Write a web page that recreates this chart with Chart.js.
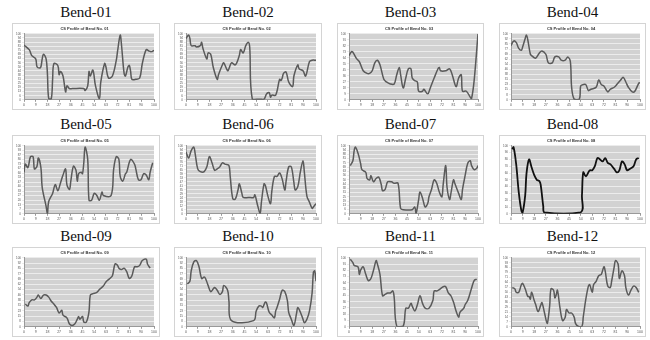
<!DOCTYPE html>
<html>
<head>
<meta charset="utf-8">
<script src="https://cdn.jsdelivr.net/npm/chart.js@4.4.1/dist/chart.umd.min.js"></script>
<style>
  body { margin: 0; background: #fff; width: 650px; height: 340px; overflow: hidden; position: relative; }
  .name { position: absolute; text-align: center; font-family: "Liberation Serif", "DejaVu Serif", serif; font-size: 15px; line-height: 16px; color: #111; }
  .box { position: absolute; border: 1px solid #d4d4d4; background: #fff; box-sizing: border-box; }
  .box canvas { display: block; }
</style>
</head>
<body>
<script>
// Nombres de cada curva
const bendNames = ["Bend-01", "Bend-02", "Bend-03", "Bend-04", "Bend-05", "Bend-06",
                   "Bend-07", "Bend-08", "Bend-09", "Bend-10", "Bend-11", "Bend-12"];
const bendNumbers = ["01", "02", "03", "04", "05", "06", "07", "08", "09", "10", "11", "12"];

// Perfiles: [posicion % a lo largo, valor % del rango]
const bend01 = [[0,83],[4,76],[6,67],[9,62],[10,50],[12,48],[13,50],[14,62],[15,69],[17,62],[18,40],[19,2],[21,2],[22,31],[23,55],[26,52],[27,38],[28,43],[30,36],[32,12],[33,21],[35,17],[37,17],[46,17],[47,14],[49,21],[50,43],[51,36],[53,45],[55,21],[58,2],[59,26],[62,55],[63,50],[65,33],[68,36],[71,60],[72,74],[74,98],[75,83],[77,40],[78,36],[80,50],[81,52],[82,43],[83,31],[86,31],[89,33],[91,55],[94,76],[96,74],[98,73],[100,75]];
const bend02 = [[0,93],[2,98],[3,93],[4,82],[7,82],[8,80],[11,82],[12,87],[13,78],[16,62],[17,71],[19,69],[21,49],[24,31],[25,38],[28,53],[29,56],[32,44],[33,47],[35,56],[38,53],[41,67],[42,76],[44,71],[46,82],[48,87],[49,80],[51,1],[57,1],[60,1],[62,9],[64,11],[65,4],[66,7],[69,7],[72,31],[73,29],[74,33],[75,40],[77,42],[79,27],[82,20],[83,36],[86,53],[87,47],[90,44],[92,36],[95,58],[97,60],[100,60]];
const bend03 = [[0,67],[2,73],[3,72],[6,62],[8,58],[11,44],[14,40],[16,40],[18,44],[20,56],[22,60],[24,53],[27,31],[29,27],[32,24],[35,24],[37,38],[39,49],[40,38],[42,18],[44,33],[46,47],[48,47],[49,33],[51,29],[53,27],[54,13],[57,13],[58,16],[61,9],[63,18],[66,33],[69,47],[70,49],[71,44],[75,44],[78,47],[80,38],[83,20],[85,33],[87,38],[88,13],[91,13],[94,4],[95,2],[97,29],[100,100]];
const bend04 = [[0,82],[2,89],[4,87],[6,78],[8,75],[9,80],[11,93],[12,98],[13,91],[15,69],[16,67],[19,63],[22,71],[24,74],[27,69],[29,56],[32,56],[34,65],[37,65],[39,60],[42,60],[44,65],[46,58],[47,19],[49,1],[53,1],[54,21],[56,23],[58,23],[60,14],[62,16],[66,19],[68,30],[70,23],[72,21],[75,12],[77,16],[80,19],[82,23],[85,30],[87,34],[89,27],[91,19],[94,12],[96,13],[99,25],[100,26]];
const bend05 = [[0,61],[1,73],[3,68],[5,84],[7,84],[8,66],[10,70],[11,82],[13,68],[14,39],[17,11],[18,0],[19,18],[22,30],[24,43],[26,34],[28,45],[30,57],[32,66],[33,43],[35,36],[36,48],[38,70],[40,64],[41,48],[42,59],[44,61],[45,59],[46,75],[47,98],[49,80],[50,20],[52,20],[54,30],[56,27],[58,20],[60,32],[61,27],[67,27],[69,66],[71,84],[73,80],[74,55],[76,48],[78,59],[79,61],[82,80],[85,73],[86,66],[88,50],[90,50],[92,59],[94,57],[96,50],[97,61],[99,75]];
const bend06 = [[0,91],[2,82],[4,93],[6,98],[7,89],[9,66],[11,62],[14,62],[16,69],[18,84],[20,75],[22,64],[24,66],[26,69],[28,75],[30,73],[33,71],[34,55],[36,22],[38,22],[40,35],[41,44],[43,30],[44,24],[48,24],[52,24],[53,28],[55,13],[57,1],[58,17],[60,44],[61,42],[63,26],[65,15],[66,33],[68,55],[70,55],[72,60],[74,51],[76,35],[77,48],[79,69],[81,69],[83,46],[84,35],[86,40],[88,62],[90,78],[91,62],[93,26],[95,17],[97,8],[98,10],[100,15]];
const bend07 = [[1,71],[3,78],[4,93],[5,98],[7,89],[9,74],[10,65],[13,61],[14,52],[16,50],[17,56],[19,47],[21,52],[23,54],[25,43],[26,34],[28,36],[30,47],[33,47],[35,45],[38,45],[40,8],[42,6],[49,6],[51,10],[52,1],[54,21],[55,32],[57,23],[59,10],[61,15],[62,25],[64,36],[66,50],[68,45],[70,32],[72,25],[73,43],[75,71],[76,39],[78,21],[79,30],[81,50],[82,45],[85,30],[87,21],[88,36],[90,56],[92,74],[94,78],[95,71],[97,65],[99,67],[100,71]];
const bend08 = [[1,95],[2,98],[4,73],[6,32],[8,5],[9,2],[11,27],[12,59],[14,80],[16,68],[18,57],[20,50],[22,48],[23,43],[25,11],[26,2],[54,2],[55,27],[56,61],[58,55],[61,64],[63,64],[65,70],[67,82],[69,80],[71,77],[73,82],[75,75],[77,73],[80,66],[82,61],[84,64],[86,77],[88,73],[90,64],[92,66],[95,70],[97,80],[99,82]];
const bend09 = [[1,33],[3,30],[4,35],[6,39],[8,39],[10,43],[11,46],[13,41],[15,46],[17,46],[19,43],[21,37],[23,33],[25,28],[27,20],[29,24],[30,17],[33,13],[35,4],[37,2],[39,4],[41,11],[42,15],[43,11],[45,15],[46,7],[48,7],[50,22],[51,46],[53,48],[56,50],[58,54],[61,59],[63,65],[66,70],[68,74],[70,91],[72,89],[73,85],[75,83],[77,85],[79,80],[81,70],[83,74],[85,87],[87,87],[89,89],[91,96],[94,98],[95,91],[97,85]];
const bend10 = [[1,62],[3,66],[4,81],[6,94],[8,96],[10,87],[12,70],[14,72],[15,70],[17,60],[19,51],[21,55],[22,57],[24,53],[26,47],[28,51],[29,60],[32,53],[33,38],[35,9],[52,9],[54,23],[56,30],[58,30],[59,28],[61,36],[62,34],[64,21],[66,17],[68,13],[69,23],[70,28],[72,40],[74,53],[76,51],[78,38],[79,21],[81,11],[83,2],[85,19],[86,28],[88,21],[90,11],[91,6],[93,11],[95,23],[97,49],[98,79],[99,81],[100,66]];
const bend11 = [[1,98],[3,93],[4,89],[7,87],[8,76],[9,82],[11,87],[13,76],[15,67],[17,70],[19,82],[21,96],[22,91],[24,76],[26,45],[28,47],[30,49],[32,49],[34,52],[35,43],[37,1],[42,1],[44,27],[46,27],[48,34],[49,30],[51,23],[53,32],[55,45],[57,34],[59,27],[62,27],[65,38],[66,52],[68,52],[70,54],[73,58],[75,58],[77,49],[79,45],[81,36],[83,23],[85,14],[86,21],[89,27],[90,32],[92,38],[95,56],[97,67],[99,69]];
const bend12 = [[1,57],[3,55],[4,50],[6,50],[8,61],[9,63],[11,55],[13,44],[14,44],[15,40],[16,50],[18,38],[19,33],[21,22],[23,31],[24,35],[26,20],[28,5],[29,14],[30,31],[31,55],[33,53],[34,42],[35,46],[36,53],[38,27],[40,9],[42,14],[43,25],[45,20],[47,20],[49,14],[50,5],[52,1],[55,1],[56,14],[58,40],[60,59],[61,61],[63,50],[64,61],[66,66],[68,74],[70,76],[72,87],[73,81],[75,59],[77,57],[78,66],[80,87],[81,96],[83,91],[84,70],[86,81],[88,74],[89,57],[91,46],[93,53],[95,59],[97,57],[99,50]];
const bends = [bend01, bend02, bend03, bend04, bend05, bend06, bend07, bend08, bend09, bend10, bend11, bend12];

// Numero de lineas horizontales de cada grafico
const yTickCounts = [17, 17, 12, 14, 16, 18, 17, 11, 14, 14, 12, 15];

// Posicion de las cajas en la pagina
const colLeft = [12, 174, 337, 499];
const colRight = [160, 322, 484, 646];
const rowTop = [23, 135, 247];
const rowBottom = [110, 224, 337];

// Fondo gris del area del grafico
const plotBg = {
  id: 'plotBg',
  beforeDraw(chart) {
    const { ctx, chartArea: a } = chart;
    ctx.save();
    ctx.fillStyle = '#d2d2d2';
    ctx.fillRect(a.left, a.top, a.width, a.height);
    ctx.restore();
  }
};

bends.forEach((pts, i) => {
  const col = i % 4, row = Math.floor(i / 4);
  const left = colLeft[col], w = colRight[col] - left;
  const top = rowTop[row], h = rowBottom[row] - top;

  const name = document.createElement('div');
  name.className = 'name';
  name.style.left = left + 'px';
  name.style.width = w + 'px';
  name.style.top = (top - 19) + 'px';
  name.textContent = bendNames[i];
  document.body.appendChild(name);

  const box = document.createElement('div');
  box.className = 'box';
  box.style.left = left + 'px';
  box.style.top = top + 'px';
  box.style.width = w + 'px';
  box.style.height = h + 'px';
  const cv = document.createElement('canvas');
  cv.width = w - 2;
  cv.height = h - 2;
  box.appendChild(cv);
  document.body.appendChild(box);

  new Chart(cv.getContext('2d'), {
    type: 'line',
    data: {
      datasets: [{
        data: pts.map(p => ({ x: p[0], y: p[1] })),
        borderColor: i === 7 ? '#111' : '#5a5a5a',
        borderWidth: i === 7 ? 1.8 : 1.5,
        pointRadius: 0,
        tension: 0.35,
        fill: false
      }]
    },
    options: {
      responsive: false,
      animation: false,
      devicePixelRatio: 1,
      layout: { padding: { left: 2, right: 5, top: 0, bottom: 1 } },
      plugins: {
        legend: { display: false },
        tooltip: { enabled: false },
        title: {
          display: true,
          text: 'CS Profile of Bend No. ' + bendNumbers[i],
          color: '#333',
          font: { family: 'Arial, Liberation Sans', size: 4, weight: 'bold' },
          padding: { top: 2, bottom: 3 }
        }
      },
      scales: {
        x: {
          type: 'linear', min: 0, max: 100,
          grid: { drawOnChartArea: false, color: '#999', tickLength: 2 },
          border: { color: '#999' },
          ticks: { stepSize: 9, autoSkip: false, color: '#555', font: { size: 3.5 }, padding: 1, maxRotation: 0 }
        },
        y: {
          min: 0, max: 100,
          grid: { color: '#ececec', lineWidth: 1, tickLength: 2 },
          border: { color: '#999' },
          ticks: { count: yTickCounts[i], autoSkip: false, color: '#555', font: { size: 3 }, padding: 1,
                   callback: v => Math.round(v) }
        }
      }
    },
    plugins: [plotBg]
  });
});
</script>
</body>
</html>
